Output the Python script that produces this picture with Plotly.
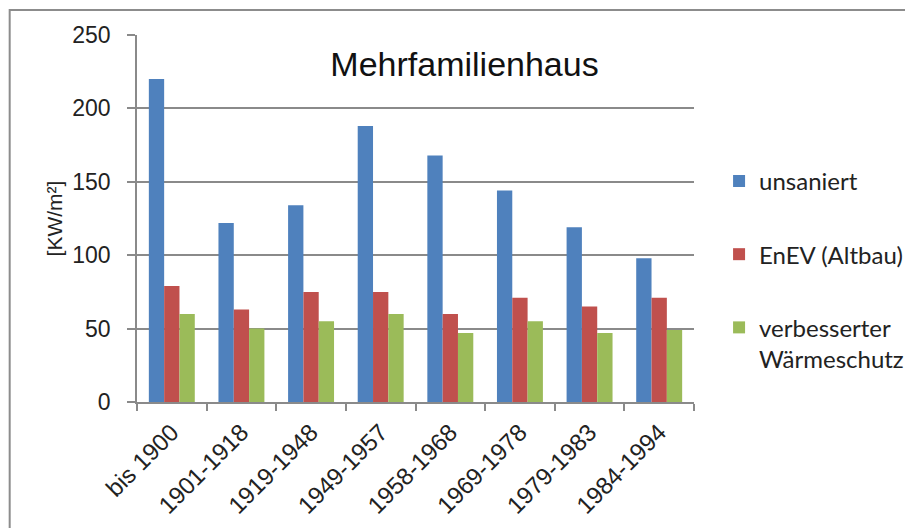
import plotly.graph_objects as go

# Baualtersklassen und Heizwärmebedarf [kW/m²]
categories = ['bis 1900', '1901-1918', '1919-1948', '1949-1957',
              '1958-1968', '1969-1978', '1979-1983', '1984-1994']
unsaniert = [220, 122, 134, 188, 168, 144, 119, 98]
enev_altbau = [79, 63, 75, 75, 60, 71, 65, 71]
waermeschutz = [60, 50, 55, 60, 47, 55, 47, 49]

series_names = ['unsaniert', 'EnEV (Altbau)', 'verbesserter<br>Wärmeschutz']
series_colors = ['#4F81BD', '#C0504D', '#9BBB59']

fig = go.Figure()
for name, values, color in zip(series_names, [unsaniert, enev_altbau, waermeschutz], series_colors):
    fig.add_trace(go.Bar(x=categories, y=values, name=name, legendgroup=name,
                         marker=dict(color=color, line=dict(width=0))))

axis_gray = '#8a8a8a'
fig.update_xaxes(
    automargin=False,
    showline=True, linecolor=axis_gray, linewidth=1.5,
    ticks='outside', tickson='boundaries', ticklen=7, tickcolor=axis_gray, tickwidth=1.5,
    tickangle=-45, ticklabelstandoff=5,
    tickfont=dict(family='Liberation Sans', size=24, color='#222'),
    showgrid=False,
)
fig.update_yaxes(
    automargin=False,
    range=[0, 250], dtick=50,
    showline=True, linecolor=axis_gray, linewidth=1.5,
    ticks='outside', ticklen=8, tickcolor=axis_gray, tickwidth=1.5, ticklabelstandoff=12,
    showgrid=True, gridcolor=axis_gray, gridwidth=1.5,
    zeroline=False,
    tickfont=dict(family='Liberation Sans', size=23, color='#222'),
    title=dict(text='[KW/m²]', font=dict(family='Liberation Sans', size=21, color='#222'), standoff=4),
)

# the page body adds an 8px offset, margins compensate for it
fig.update_layout(
    width=913, height=528,
    margin=dict(l=129, r=224, t=27, b=134),
    paper_bgcolor='white', plot_bgcolor='white',
    barmode='group', bargap=0.34, bargroupgap=0,
    title=dict(text='Mehrfamilienhaus', xref='paper', x=0.588, xanchor='center',
               y=1 - 56 / 528, yanchor='middle',
               font=dict(family='Liberation Sans', size=34, color='#111')),
    legend=dict(x=1.045, xanchor='left', y=0.36, yanchor='middle',
                traceorder='grouped', tracegroupgap=39, valign='top',
                font=dict(family='Lato', size=24, color='#222'),
                bgcolor='rgba(0,0,0,0)'),
    showlegend=True,
)

# Rahmen des Diagramms (nur linke und obere Kante sichtbar)
fig.add_shape(type='rect', xref='paper', yref='paper',
              x0=(1 - 129) / 560, x1=1.45, y0=-0.45, y1=(367 + 25) / 367,
              line=dict(color='#8c8c8c', width=2), fillcolor='rgba(0,0,0,0)', layer='below')

fig.write_html('out.html')
